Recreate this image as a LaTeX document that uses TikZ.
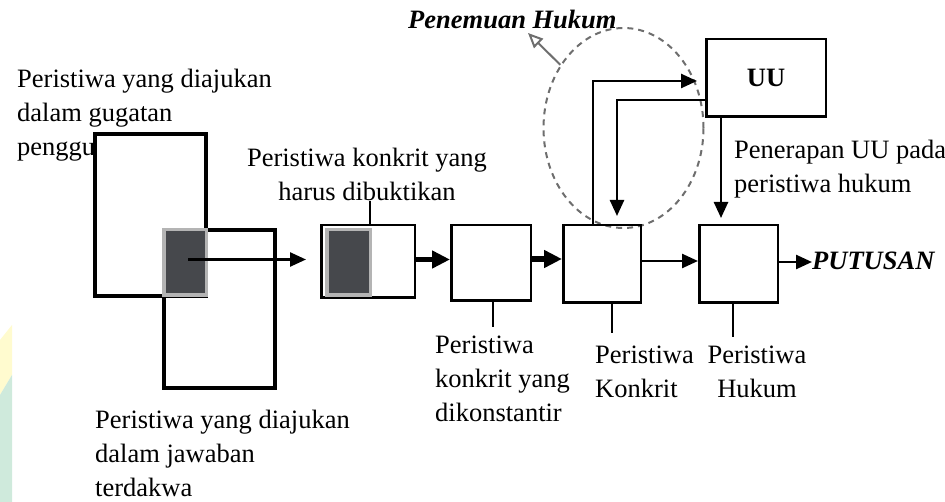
\documentclass[tikz,border=0pt]{standalone}
\usepackage{fontspec}
\setmainfont{Liberation Serif}
\usetikzlibrary{arrows.meta,shapes.geometric}
\definecolor{dgray}{HTML}{46484C}
\definecolor{lgray}{HTML}{B4B4B4}
\definecolor{pgray}{HTML}{6E6E6E}
\definecolor{wmy}{HTML}{FFFBCF}
\definecolor{wmg}{HTML}{CFEADC}
\begin{document}
\begin{tikzpicture}[x=1pt,y=-1pt,font=\fontsize{26.5}{34}\selectfont,
		box/.style={draw,line width=2.5pt,inner sep=0pt},
		shade/.style={draw=lgray,fill=dgray,line width=3.5pt,inner sep=0pt,minimum width=42.5pt,minimum height=65.5pt},
		lbl/.style={anchor=base west,align=left,inner sep=0pt},
		arr/.style={line width=2.5pt,-{Triangle[length=16pt,width=14pt]}},
		tarr/.style={line width=5.5pt,-{Triangle[length=18pt,width=17pt]}},
		parr/.style={draw=pgray,line width=2pt,-{Triangle[open,length=15pt,width=13pt]}}]
			\useasboundingbox (0,0) rectangle (945,502);
			\fill[wmy] (0,340) -- (12,325) -- (12,375) -- (0,395) -- cycle;
			\fill[wmg] (0,395) -- (12,375) -- (12,502) -- (0,502) -- cycle;
			\node[draw=pgray,dashed,dash pattern=on 6pt off 5pt,ellipse,line width=2pt,minimum width=160pt,minimum height=200pt,inner sep=0pt] (pen) at (623.5,128) {};
			\node[lbl] (lA) at (17,156) {Peristiwa yang diajukan\\dalam gugatan\\penggugat};
			\node[box,fill=white,line width=4pt,minimum width=111pt,minimum height=162pt] (A) at (150.5,215) {};
			\node[box,line width=4pt,minimum width=111pt,minimum height=158pt] (B) at (219.5,309) {};
			\node[shade] (G) at (185,262.5) {};
			\node[box,minimum width=93.5pt,minimum height=72.5pt] (C) at (368,261.5) {};
			\node[shade,minimum width=43.5pt] (CG) at (348.5,262.5) {};
			\node[box,minimum width=79.5pt,minimum height=75.5pt] (D) at (491,263) {};
			\node[box,minimum width=77.5pt,minimum height=77.5pt] (E) at (602,264) {};
			\node[box,minimum width=78.5pt,minimum height=77.5pt] (F) at (738.5,264) {};
			\node[box,minimum width=119.5pt,minimum height=77.5pt,font=\fontsize{26.5}{34}\selectfont\bfseries] (UU) at (766,78) {UU};
			\node[lbl] (lB) at (95,496) {Peristiwa yang diajukan\\dalam jawaban\\terdakwa};
			\node[lbl,align=center,anchor=base] (lC) at (367,201) {Peristiwa konkrit yang\\harus dibuktikan};
			\node[lbl] (lD) at (435,421) {Peristiwa\\konkrit yang\\dikonstantir};
			\node[lbl] (lE) at (595,398) {Peristiwa\\Konkrit};
			\node[lbl,align=center,anchor=base] (lF) at (757,398) {Peristiwa\\Hukum};
			\node[lbl] (lUU) at (734,193) {Penerapan UU pada\\peristiwa hukum};
			\node[lbl,font=\fontsize{26.5}{34}\selectfont\bfseries\itshape] (lPen) at (408,29) {Penemuan Hukum};
			\node[lbl,font=\fontsize{26.5}{34}\selectfont\bfseries\itshape] (put) at (812,270) {PUTUSAN};
			\coordinate (gtip) at (306,259.5);
			\coordinate (ptip) at (528,33);
			\draw[arr] ([xshift=3pt]G.center |- gtip) -- (gtip);
			\draw[tarr] ([yshift=2pt]C.east) -- ([yshift=2pt]C.east -| D.west);
			\draw[tarr] ([yshift=4pt]D.east) -- ([yshift=4pt]D.east -| E.west);
			\draw[arr] ([yshift=3pt]E.east) -- ([yshift=3pt]E.east -| F.west);
			\draw[arr] ([yshift=2pt]F.east) -- ([yshift=2pt]F.east -| put.west);
			\draw[arr,shorten >=8pt] ([xshift=-9pt]E.north) |- ([yshift=-3pt]UU.west);
			\draw[arr,shorten >=8pt] ([yshift=-22pt]UU.west) -| ([xshift=15pt]E.north);
			\draw[arr,shorten >=6pt] ([xshift=-45pt]UU.south) -- ([xshift=-45pt]UU.south |- F.north);
			\draw[parr] (pen.135) -- (ptip);
			\draw[line width=2pt] ([xshift=2pt]C.north) -- ([xshift=2pt]C.north |- lC.south);
			\draw[line width=2pt,shorten >=8pt] ([xshift=2pt]D.south) -- ([xshift=2pt]D.south |- lD.north);
			\draw[line width=2pt,shorten >=13pt] ([xshift=10pt]E.south) -- ([xshift=10pt]E.south |- lE.north);
			\draw[line width=2pt,shorten >=9pt] ([xshift=-5.5pt]F.south) -- ([xshift=-5.5pt]F.south |- lF.north);
\end{tikzpicture}
\end{document}
